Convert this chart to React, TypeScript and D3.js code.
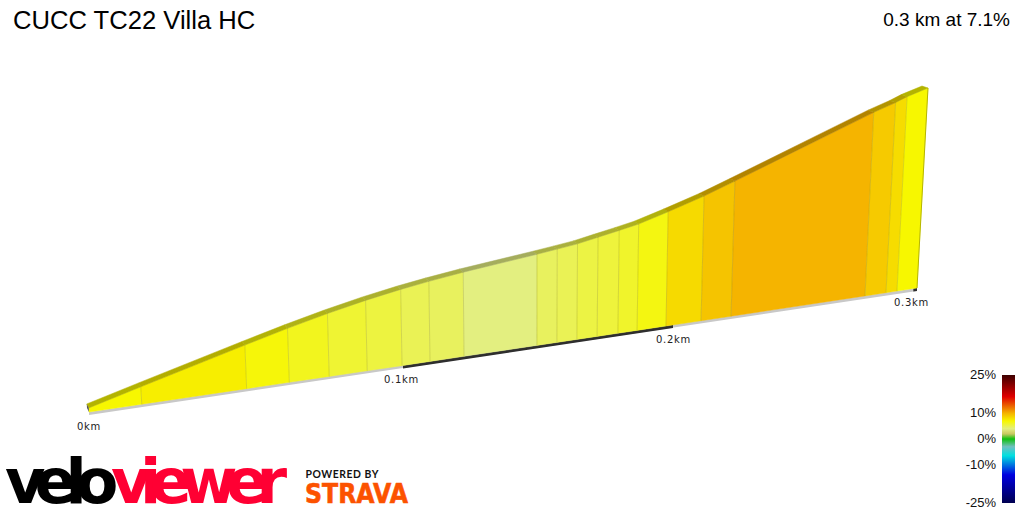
import * as d3 from "d3";

const titleText = "CUCC TC22 Villa HC";
const summaryText = "0.3 km at 7.1%";

// segment ends along the climb
const distances = [
  0, 0.0168, 0.0502, 0.0638, 0.0765, 0.0886, 0.0997, 0.11, 0.1226, 0.1496, 0.157,
  0.1644, 0.1719, 0.1796, 0.1867, 0.1974, 0.2115, 0.2238, 0.2787, 0.2873, 0.2918, 0.3,
];
const elevations = [
  0.43, 1.85, 4.64, 5.75, 6.7, 7.5, 8.12, 8.53, 8.96, 9.71, 9.94, 10.18, 10.56, 10.95,
  11.33, 12.17, 13.28, 14.39, 19.55, 20.25, 20.7, 21.3,
];
// colour grade of each segment, estimated against the legend
const grades = [
  7, 7.4, 6.8, 6.3, 5.8, 5.5, 5, 4.8, 4, 4.8, 5, 5.4, 5.6, 6, 6.6, 8.3, 9.3, 10, 9, 8.2, 7,
];

const distanceTicks = [0, 0.1, 0.2, 0.3];
const distanceTickLabels = ["0km", "0.1km", "0.2km", "0.3km"];
const darkBands = [
  [0.1, 0.2],
  [0.2985, 0.3],
];

const legendTicks = [25, 10, 0, -10, -25];
const legendGrades = [25, 16.5, 10, 7, 4, 2, 0, -3, -6.5, -14, -25];
const legendColours = [
  "#3d0000", "#e00000", "#f5b400", "#f7f700", "#e3ef80", "#c8c860",
  "#10c010", "#70c0c0", "#00e0e0", "#0000e0", "#000050",
];

const gradeColour = d3
  .scaleLinear<string>()
  .domain([...legendGrades].reverse())
  .range([...legendColours].reverse())
  .interpolate(d3.interpolateRgb);

// distance is foreshortened, so the base line is piecewise
const baseX = d3.scaleLinear().domain(distanceTicks).range([89, 403, 673, 917]);
const baseY = d3.scaleLinear().domain(distanceTicks).range([412, 365.5, 325, 288]);
const labelX = d3.scaleLinear().domain(distanceTicks).range([89, 401.5, 673.5, 911.5]);
const liftY = d3.scaleLinear().domain([0, 21.3]).range([0, 200]);
const depthX = d3.scaleLinear().domain([0, 0.3]).range([-2, -6]);
const depthY = d3.scaleLinear().domain([0, 0.3]).range([-4, -2]);
const legendY = d3.scaleLinear().domain([25, -25]).range([375, 503]);

const stripHeight = 3;

type Pt = [number, number];

const project = (dist: number, elev: number): Pt => {
  const x = baseX(dist);
  const h = liftY(elev);
  // verticals lean away from the centre of the picture
  return [x + (x - 530) * h * 1.42e-4, baseY(dist) - h];
};

const behind = (p: Pt, dist: number): Pt => [p[0] + depthX(dist), p[1] + depthY(dist)];

const poly = (pts: Pt[]) => d3.line()(pts) + "Z";

const strip = (a: number, b: number) =>
  poly([
    [baseX(a), baseY(a)],
    [baseX(b), baseY(b)],
    [baseX(b), baseY(b) + stripHeight],
    [baseX(a), baseY(a) + stripHeight],
  ]);

export default function App() {
  const last = distances.length - 1;
  const capFront = project(0, 0);
  const capTop = project(0, elevations[0]);

  return (
    <svg
      width={1024}
      height={512}
      viewBox="0 0 1024 512"
      style={{ position: "absolute", left: 0, top: 0, display: "block", background: "#fff" }}
    >
      <defs>
        <linearGradient id="legend-ramp" x1="0" x2="0" y1="0" y2="1">
          {legendGrades.map((g, i) => (
            <stop key={g} offset={(25 - g) / 50} stopColor={legendColours[i]} />
          ))}
        </linearGradient>
      </defs>

      <text x={13} y={29} fontFamily="Liberation Sans" fontSize={25.6} fill="#000">
        {titleText}
      </text>
      <text x={1010} y={26} textAnchor="end" fontFamily="Liberation Sans" fontSize={19} fill="#000">
        {summaryText}
      </text>

      {/* scale strip under the road */}
      <path d={strip(0, 0.3)} fill="#c8c8c8" />
      {darkBands.map(([a, b]) => (
        <path key={a} d={strip(a, b)} fill="#2e2e2e" />
      ))}

      {/* coloured wall */}
      {grades.map((g, i) => {
        const c = gradeColour(g);
        const d0 = distances[i];
        const d1 = distances[i + 1];
        return (
          <path
            key={d0}
            d={poly([
              project(d0, 0),
              project(d0, elevations[i]),
              project(d1, elevations[i + 1]),
              project(d1, 0),
            ])}
            fill={c}
            stroke={c}
            strokeWidth={0.4}
          />
        );
      })}
      {distances.slice(1, last).map((d, i) => (
        <path
          key={d}
          d={d3.line()([project(d, 0), project(d, elevations[i + 1])])!}
          stroke="#8a8a20"
          strokeOpacity={0.28}
          strokeWidth={1}
          fill="none"
        />
      ))}
      <path
        d={d3.line()([project(0.3, 0), project(0.3, elevations[last])])!}
        stroke="#b5b500"
        strokeWidth={1}
        fill="none"
      />

      {/* road surface along the top */}
      {grades.map((g, i) => {
        const d0 = distances[i];
        const d1 = distances[i + 1];
        const a = project(d0, elevations[i]);
        const b = project(d1, elevations[i + 1]);
        const c = d3.rgb(gradeColour(g)).darker(0.9).formatHex();
        return (
          <path
            key={d0}
            d={poly([a, b, behind(b, d1), behind(a, d0)])}
            fill={c}
            stroke={c}
            strokeWidth={0.5}
          />
        );
      })}
      <path
        d={poly([capFront, capTop, behind(capTop, 0), behind(capFront, 0)])}
        fill="#555"
      />

      {distanceTicks.map((d, i) => (
        <text
          key={d}
          x={labelX(d)}
          y={baseY(d) + 17.5}
          textAnchor="middle"
          fontFamily="DejaVu Sans"
          fontSize={10}
          letterSpacing={0.75}
          fill="#222"
        >
          {distanceTickLabels[i]}
        </text>
      ))}

      {/* gradient legend */}
      <rect x={1002} y={legendY(25)} width={13} height={legendY(-25) - legendY(25)} fill="url(#legend-ramp)" />
      {legendTicks.map((t) => (
        <text
          key={t}
          x={996}
          y={legendY(t) + 4}
          textAnchor="end"
          fontFamily="Liberation Sans"
          fontSize={13}
          fill="#111"
        >
          {t}%
        </text>
      ))}

      {/* logos */}
      <text
        x={5}
        y={503}
        fontFamily="DejaVu Sans"
        fontWeight={700}
        fontSize={62}
        letterSpacing={-11}
        fill="#000"
      >
        velo
      </text>
      <text
        x={111}
        y={503}
        fontFamily="DejaVu Sans"
        fontWeight={700}
        fontSize={62}
        letterSpacing={-11.5}
        fill="#ff0033"
      >
        viewer
      </text>
      <text x={305.5} y={477.5} fontFamily="Lato" fontWeight={700} fontSize={10.4} letterSpacing={0.55} fill="#111">
        POWERED BY
      </text>
      <text
        x={305}
        y={503}
        fontFamily="DejaVu Sans"
        fontWeight={700}
        fontSize={26}
        textLength={103}
        lengthAdjust="spacingAndGlyphs"
        fill="#fc5200"
        stroke="#fc5200"
        strokeWidth={0.6}
      >
        STRAVA
      </text>
    </svg>
  );
}
